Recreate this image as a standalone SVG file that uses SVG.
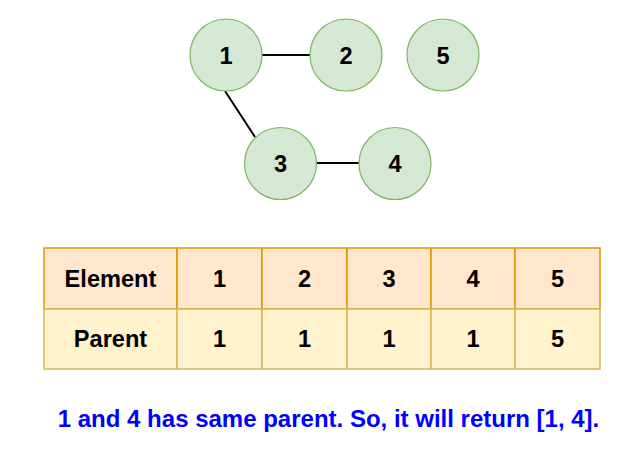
<svg xmlns="http://www.w3.org/2000/svg" width="634" height="454" viewBox="0 0 634 454">
<style>
.node circle{fill:#d5e8d4;stroke:#82b366;stroke-width:1.2}
.t{font-family:"Liberation Sans",Arial,sans-serif;font-weight:bold;font-size:23.6px;text-anchor:middle;fill:#000}
.edge{stroke:#000;stroke-width:2;fill:none}
.h rect{fill:#ffe6cc;stroke:#d79b00;stroke-width:1.5}
.p rect{fill:#fff2cc;stroke:#d6b656;stroke-width:1.5}
.note{font-family:"Liberation Sans",Arial,sans-serif;font-weight:bold;font-size:24px;text-anchor:middle;fill:#0000ff}
</style>
<rect width="634" height="454" fill="#fff"/>
<g id="connectors">
<line class="edge" x1="262" y1="55" x2="310" y2="55"/>
<line class="edge" x1="225" y1="91" x2="255" y2="137"/>
<line class="edge" x1="317" y1="163" x2="359" y2="163"/>
</g>
<g id="node1" class="node"><circle cx="226" cy="55" r="36"/><text class="t" x="226" y="63.5">1</text></g>
<g id="node2" class="node"><circle cx="346" cy="55" r="36"/><text class="t" x="346" y="63.5">2</text></g>
<g id="node5" class="node"><circle cx="443" cy="55" r="36"/><text class="t" x="443" y="63.5">5</text></g>
<g id="node3" class="node"><circle cx="280.5" cy="163.5" r="36"/><text class="t" x="280.5" y="172">3</text></g>
<g id="node4" class="node"><circle cx="395" cy="163.5" r="36"/><text class="t" x="395" y="172">4</text></g>
<g id="table">
<g id="row-element" class="h">
<rect x="44" y="248" width="133" height="61"/>
<rect x="177" y="248" width="85" height="61"/>
<rect x="262" y="248" width="85" height="61"/>
<rect x="347" y="248" width="84" height="61"/>
<rect x="431" y="248" width="84" height="61"/>
<rect x="515" y="248" width="85" height="61"/>
<text class="t" x="110.5" y="287">Element</text>
<text class="t" x="219.5" y="287">1</text>
<text class="t" x="304.5" y="287">2</text>
<text class="t" x="389" y="287">3</text>
<text class="t" x="473" y="287">4</text>
<text class="t" x="557.5" y="287">5</text>
</g>
<g id="row-parent" class="p">
<rect x="44" y="309" width="133" height="60"/>
<rect x="177" y="309" width="85" height="60"/>
<rect x="262" y="309" width="85" height="60"/>
<rect x="347" y="309" width="84" height="60"/>
<rect x="431" y="309" width="84" height="60"/>
<rect x="515" y="309" width="85" height="60"/>
<text class="t" x="110.5" y="347">Parent</text>
<text class="t" x="219.5" y="347">1</text>
<text class="t" x="304.5" y="347">1</text>
<text class="t" x="389" y="347">1</text>
<text class="t" x="473" y="347">1</text>
<text class="t" x="557.5" y="347">5</text>
</g>
</g>
<text class="note" x="328.5" y="427">1 and 4 has same parent. So, it will return [1, 4].</text>
</svg>
